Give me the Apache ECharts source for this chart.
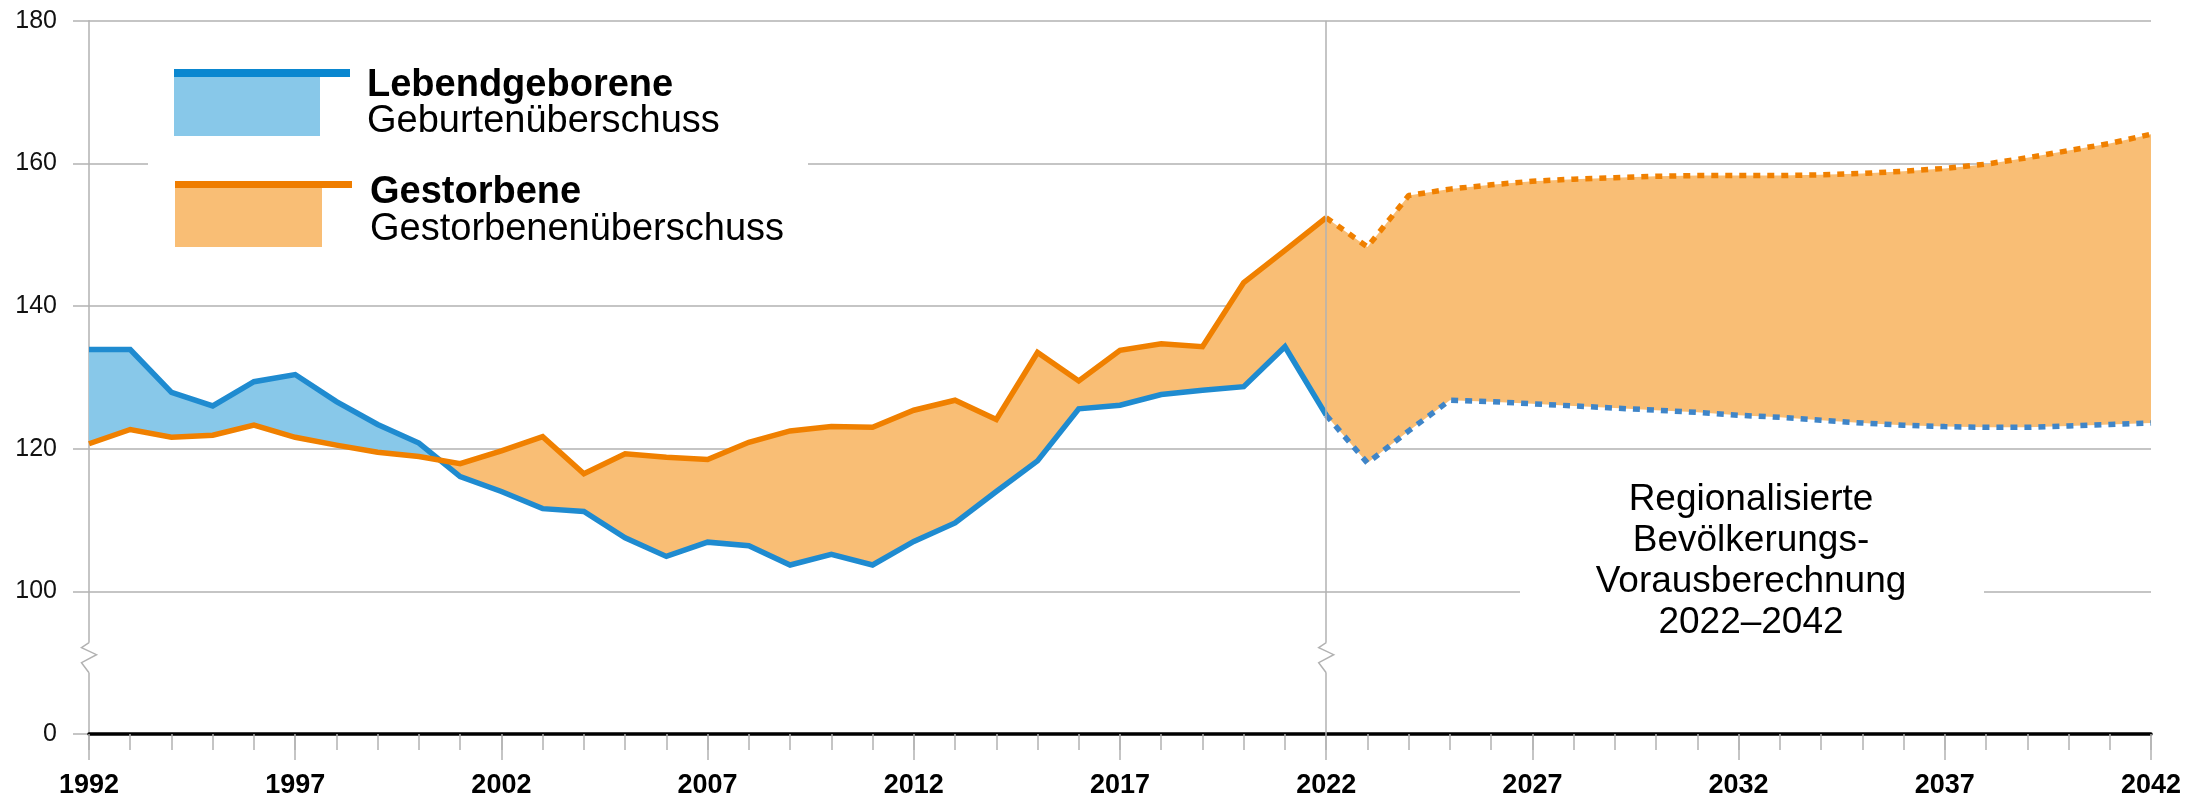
<!DOCTYPE html>
<html><head><meta charset="utf-8">
<script src="https://cdn.jsdelivr.net/npm/echarts@6/dist/echarts.min.js"></script>
<style>html,body{margin:0;padding:0;background:#fff}#c{width:2211px;height:799px}</style>
</head><body><div id="c"></div>
<script>
// ---- data ----
const years = ['1992','1993','1994','1995','1996','1997','1998','1999','2000','2001','2002','2003','2004','2005','2006','2007','2008','2009','2010','2011','2012','2013','2014','2015','2016','2017','2018','2019','2020','2021','2022','2023','2024','2025','2026','2027','2028','2029','2030','2031','2032','2033','2034','2035','2036','2037','2038','2039','2040','2041','2042'];
// 1992–2022 (observed)
const lebendgeboreneIst = [133.9,133.9,127.9,126.0,129.4,130.4,126.6,123.4,120.8,116.1,114.0,111.6,111.2,107.5,104.9,106.9,106.4,103.7,105.2,103.7,107.0,109.6,114.0,118.3,125.6,126.1,127.6,128.2,128.7,134.3,124.7];
const gestorbeneIst = [120.7,122.7,121.6,121.9,123.3,121.6,120.5,119.5,118.9,117.9,119.7,121.7,116.5,119.3,118.8,118.5,120.9,122.5,123.1,123.0,125.4,126.8,124.1,133.5,129.5,133.8,134.7,134.3,143.3,147.8,152.4];
// 2022–2042 (projection)
const lebendgeborenePrognose = [124.7,118.0,122.5,126.8,126.6,126.3,126.0,125.7,125.4,125.1,124.7,124.4,124.0,123.6,123.3,123.1,123.0,123.0,123.2,123.4,123.6];
const gestorbenePrognose = [152.4,148.3,155.5,156.4,157.0,157.5,157.8,158.0,158.2,158.3,158.3,158.3,158.4,158.6,158.9,159.3,159.9,160.8,161.8,162.8,164.1];
const yTickLabels = [0,100,120,140,160,180];
const BREAK_SHIFT = 80;   // axis break: 0..100 compressed to one 20-unit step

// ---- helpers ----
const FONT = '"Liberation Sans", Arial, Helvetica, sans-serif';
const BLUE = '#1f8bd0', ORANGE = '#f08000';
const BLUE_DOT = '#3f85c8', ORANGE_DOT = '#f08000';
const FILL_BLUE = '#88c8e9', FILL_ORANGE = '#f9be75';
const GRID = '#b2b2b2';
const LW = 5.5;
const tf = v => v == null ? null : (v >= 100 ? v - BREAK_SHIFT : v);
const nulls = n => Array(n).fill(null);

const nHist = lebendgeboreneIst.length;
const lebendAll = lebendgeboreneIst.concat(lebendgeborenePrognose.slice(1));
const gestAll = gestorbeneIst.concat(gestorbenePrognose.slice(1));
const tickLabelByPos = {};
yTickLabels.forEach(v => { tickLabelByPos[tf(v)] = String(v); });

// fill between the two curves: blue where births exceed deaths, orange otherwise
function renderFill(params, api) {
  const children = [];
  let top = [], bot = [], sign = null;
  const flush = () => {
    if (top.length > 1) children.push({type: 'polygon', shape: {points: top.concat(bot.slice().reverse())},
      style: {fill: sign > 0 ? FILL_BLUE : FILL_ORANGE}});
  };
  for (let i = 0; i < years.length; i++) {
    const b = api.coord([i, tf(lebendAll[i])]), o = api.coord([i, tf(gestAll[i])]);
    const d = lebendAll[i] - gestAll[i];
    const s = d > 0 ? 1 : (d < 0 ? -1 : 0);
    if (sign === null) { sign = s; top.push(b); bot.push(o); continue; }
    if (s !== 0 && sign !== 0 && s !== sign) {
      const dPrev = lebendAll[i - 1] - gestAll[i - 1];
      const t = dPrev / (dPrev - d);
      const bp = top[top.length - 1];
      const x = [bp[0] + t * (b[0] - bp[0]), bp[1] + t * (b[1] - bp[1])];
      top.push(x); bot.push(x);
      flush();
      top = [x]; bot = [x]; sign = s;
    } else if (sign === 0) { sign = s; }
    top.push(b); bot.push(o);
  }
  flush();
  return {type: 'group', children: children};
}

const chart = echarts.init(document.getElementById('c'), null, {renderer: 'canvas'});
const baseX = {
  type: 'category', data: years, boundaryGap: false, gridIndex: 0, position: 'bottom',
  splitLine: {show: false}, splitArea: {show: false}
};
chart.setOption({
  animation: false,
  backgroundColor: '#fff',
  grid: {left: 89, right: 60, top: 20.8, bottom: 64.7, containLabel: false},
  xAxis: [
    Object.assign({}, baseX, {
      axisLine: {show: true, lineStyle: {color: '#000', width: 3.5}},
      axisTick: {show: true, interval: 0, length: 16, lineStyle: {color: GRID, width: 1.5}},
      axisLabel: {show: false}, z: 3
    }),
    Object.assign({}, baseX, {
      axisLine: {show: false},
      axisTick: {show: true, interval: 4, length: 26, lineStyle: {color: GRID, width: 1.5}},
      axisLabel: {show: true, interval: 4, margin: 38, color: '#000', fontFamily: FONT, fontWeight: 'bold', fontSize: 27}
    })
  ],
  yAxis: {
    type: 'value', min: 0, max: 100, interval: 20,
    axisLine: {show: true, lineStyle: {color: GRID, width: 1.5}},
    axisTick: {show: true, length: 16, lineStyle: {color: GRID, width: 1.5}},
    splitLine: {show: true, lineStyle: {color: GRID, width: 1.5}},
    axisLabel: {margin: 32, color: '#111', fontFamily: FONT, fontSize: 25,
      formatter: v => tickLabelByPos[v] !== undefined ? tickLabelByPos[v] : ''}
  },
  series: [
    {type: 'custom', name: 'fill', xAxisIndex: 0, renderItem: renderFill, data: [[0, 0]],
     encode: {x: 0, y: 1}, z: 1, silent: true},
    {type: 'line', name: 'vline', xAxisIndex: 0, data: [], z: 2, silent: true,
     markLine: {silent: true, symbol: ['none', 'none'], label: {show: false},
       lineStyle: {color: GRID, width: 1.5, type: 'solid'}, data: [{xAxis: '2022'}]}},
    {type: 'line', name: 'Lebendgeborene', xAxisIndex: 0, z: 4, symbol: 'none',
     data: lebendgeboreneIst.map(tf).concat(nulls(years.length - nHist)),
     lineStyle: {color: BLUE, width: LW, cap: 'butt', join: 'miter'}},
    {type: 'line', name: 'Gestorbene', xAxisIndex: 0, z: 4, symbol: 'none',
     data: gestorbeneIst.map(tf).concat(nulls(years.length - nHist)),
     lineStyle: {color: ORANGE, width: LW, cap: 'butt', join: 'miter'}},
    {type: 'line', name: 'Lebendgeborene Prognose', xAxisIndex: 0, z: 4, symbol: 'none',
     data: nulls(nHist - 1).concat(lebendgeborenePrognose.map(tf)),
     lineStyle: {color: BLUE_DOT, width: LW, type: [7, 7], cap: 'butt'}},
    {type: 'line', name: 'Gestorbene Prognose', xAxisIndex: 0, z: 4, symbol: 'none',
     data: nulls(nHist - 1).concat(gestorbenePrognose.map(tf)),
     lineStyle: {color: ORANGE_DOT, width: LW, type: [7, 7], cap: 'butt'}}
  ]
});

// ---- decorations: legend, annotation, axis-break marks ----
const yBreak = chart.convertToPixel({yAxisIndex: 0}, 10.7);
const xA = chart.convertToPixel({xAxisIndex: 0}, '1992');
const xB = chart.convertToPixel({xAxisIndex: 0}, '2022');
function zig(x, yc) {
  const y0 = yc - 15;
  return [
    {type: 'rect', shape: {x: x - 3, y: y0, width: 6, height: 30}, style: {fill: '#fff'}, z: 100},
    {type: 'polyline', shape: {points: [[x, y0], [x - 7.5, y0 + 5], [x + 7.5, y0 + 12], [x - 7.5, y0 + 20], [x, y0 + 30]]},
     style: {stroke: GRID, lineWidth: 1.5, fill: null}, z: 101}
  ];
}
const txt = (t, x, y, size, weight) => ({type: 'text', x: x, y: y, z: 102,
  style: {text: t, fill: '#000', fontFamily: FONT, fontSize: size, fontWeight: weight || 'normal', align: 'left', verticalAlign: 'middle'}});
chart.setOption({
  graphic: [
    {type: 'rect', shape: {x: 148, y: 45, width: 660, height: 220}, style: {fill: '#fff'}, z: 100},
    {type: 'rect', shape: {x: 174, y: 77, width: 146, height: 59}, style: {fill: FILL_BLUE}, z: 101},
    {type: 'rect', shape: {x: 174, y: 69, width: 176, height: 8}, style: {fill: '#0a87d0'}, z: 101},
    {type: 'rect', shape: {x: 175, y: 188, width: 147, height: 59}, style: {fill: FILL_ORANGE}, z: 101},
    {type: 'rect', shape: {x: 175, y: 181, width: 177, height: 7}, style: {fill: '#ef7d00'}, z: 101},
    txt('Lebendgeborene', 367, 86, 38, 'bold'),
    txt('Geburtenüberschuss', 367, 122, 38),
    txt('Gestorbene', 370, 193, 38, 'bold'),
    txt('Gestorbenenüberschuss', 370, 230, 38),
    {type: 'rect', shape: {x: 1520, y: 470, width: 464, height: 172}, style: {fill: '#fff'}, z: 100},
    {type: 'text', x: 1751, y: 561, z: 102,
     style: {text: 'Regionalisierte\nBevölkerungs-\nVorausberechnung\n2022–2042', fill: '#000', fontFamily: FONT,
       fontSize: 37, lineHeight: 41, align: 'center', verticalAlign: 'middle'}}
  ].concat(zig(xA, yBreak), zig(xB, yBreak))
});
</script>
</body></html>
